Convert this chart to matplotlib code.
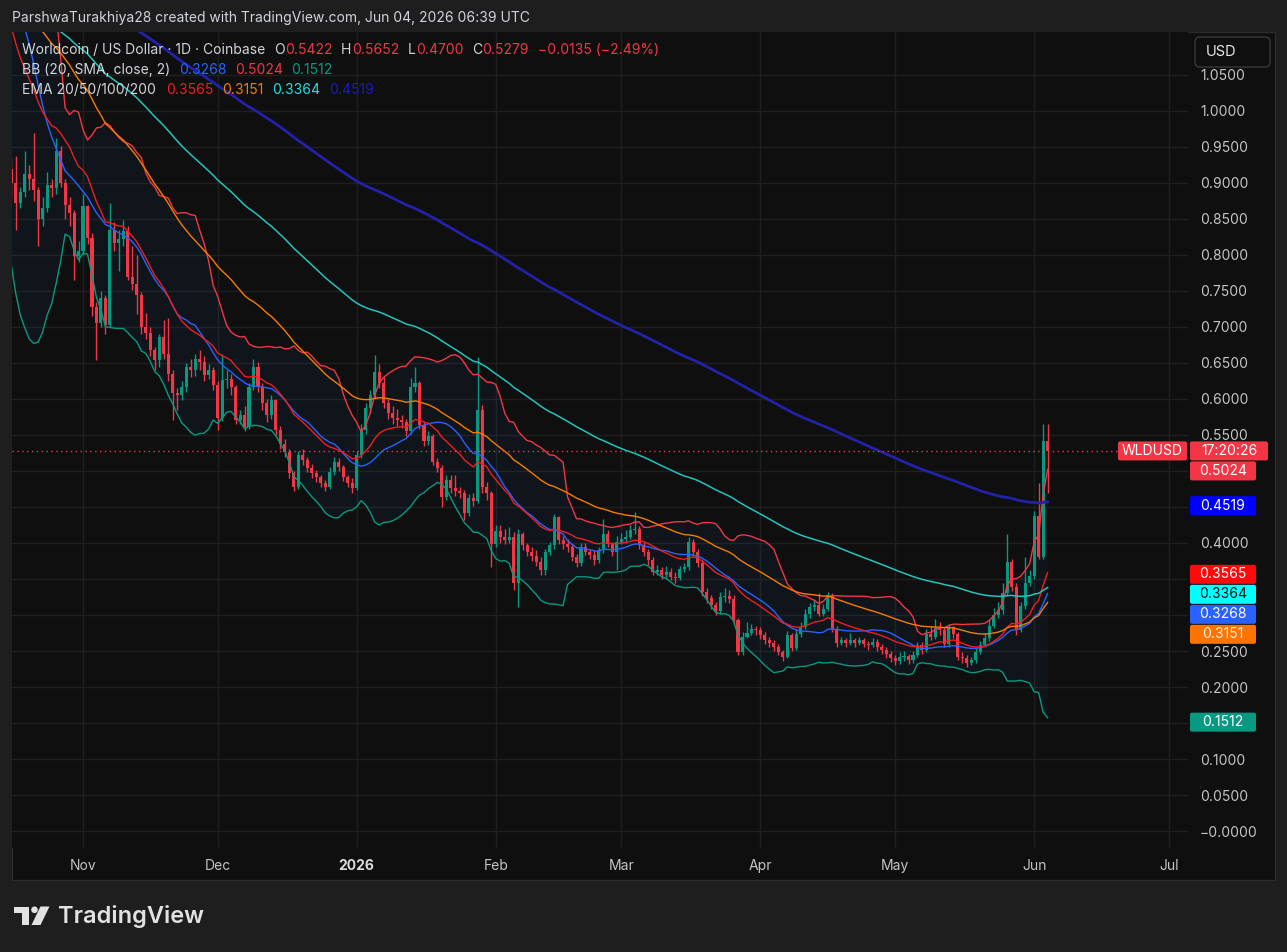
import matplotlib
matplotlib.use("Agg")
import matplotlib.pyplot as plt
import matplotlib.dates as mdates
from matplotlib.patches import Rectangle, FancyBboxPatch, Polygon, Circle
from matplotlib.transforms import IdentityTransform
import numpy as np
import pandas as pd

plt.rcParams['font.family'] = ['Inter', 'DejaVu Sans']

W, H = 1287, 952
BG_OUT = '#1e1e1e'
BG = '#0f0f0f'
GRID = '#1f1f1f'
LIGHT = '#d1d4dc'
AXIS_TXT = '#c4c4c4'
GREEN = '#089981'
RED = '#F23645'

# ---- data (WLD/USD daily, Coinbase) ----
first_day = "2025-10-16"

# closes before the visible window, only used to warm up BB / EMA
pre_close = [1.30, 1.33, 1.36, 1.40, 1.37, 1.42, 1.45, 1.43, 1.38, 1.28,
             1.26, 1.22, 1.18, 0.99, 0.93, 0.96, 1.02, 0.98, 0.95, 0.92]
ema_seed = {20: 1.33, 50: 1.23, 100: 1.16, 200: 1.21}

closes = [
    # Oct 16 - 31
    0.900, 0.872, 0.888, 0.913, 0.905, 0.890, 0.850, 0.865, 0.897, 0.893,
    0.945, 0.900, 0.869, 0.858, 0.798, 0.805,
    # Nov
    0.868, 0.823, 0.728, 0.705, 0.740, 0.703, 0.835, 0.816, 0.822, 0.833,
    0.770, 0.760, 0.744, 0.700, 0.691, 0.668, 0.654, 0.686, 0.663, 0.635,
    0.608, 0.605, 0.617, 0.645, 0.640, 0.656, 0.652, 0.633, 0.640, 0.620,
    # Dec
    0.573, 0.626, 0.628, 0.617, 0.571, 0.578, 0.561, 0.617, 0.645, 0.617,
    0.594, 0.578, 0.598, 0.557, 0.538, 0.527, 0.497, 0.478, 0.522, 0.515,
    0.504, 0.497, 0.492, 0.483, 0.478, 0.499, 0.513, 0.505, 0.492, 0.483,
    0.476,
    # Jan
    0.522, 0.557, 0.587, 0.605, 0.638, 0.622, 0.594, 0.580, 0.573, 0.571,
    0.568, 0.555, 0.617, 0.622, 0.564, 0.541, 0.548, 0.513, 0.504, 0.464,
    0.487, 0.476, 0.472, 0.470, 0.441, 0.462, 0.459, 0.585, 0.478, 0.469,
    0.399,
    # Feb
    0.416, 0.409, 0.404, 0.409, 0.344, 0.413, 0.397, 0.388, 0.382, 0.374,
    0.362, 0.388, 0.397, 0.436, 0.404, 0.399, 0.395, 0.381, 0.372, 0.395,
    0.388, 0.383, 0.376, 0.390, 0.413, 0.399, 0.388, 0.402,
    # Mar
    0.406, 0.408, 0.418, 0.420, 0.397, 0.388, 0.376, 0.360, 0.362, 0.355,
    0.360, 0.353, 0.351, 0.364, 0.366, 0.402, 0.388, 0.372, 0.332, 0.323,
    0.314, 0.305, 0.325, 0.326, 0.322, 0.293, 0.249, 0.270, 0.275, 0.281,
    0.279,
    # Apr
    0.272, 0.265, 0.261, 0.256, 0.249, 0.242, 0.272, 0.254, 0.274, 0.284,
    0.302, 0.311, 0.314, 0.302, 0.309, 0.328, 0.281, 0.261, 0.265, 0.261,
    0.265, 0.261, 0.265, 0.260, 0.258, 0.263, 0.256, 0.251, 0.246, 0.240,
    # May
    0.236, 0.242, 0.243, 0.237, 0.245, 0.258, 0.251, 0.274, 0.270, 0.282,
    0.279, 0.260, 0.283, 0.274, 0.242, 0.240, 0.233, 0.237, 0.249, 0.258,
    0.268, 0.285, 0.300, 0.307, 0.330, 0.374, 0.339, 0.279, 0.312, 0.344,
    0.354,
    # Jun
    0.437, 0.381, 0.5414, 0.5279,
]

highs = [
    0.935, 0.937, 0.895, 0.945, 0.925, 0.969, 0.895, 0.880, 0.915, 0.905,
    0.962, 0.952, 0.905, 0.880, 0.862, 0.820,
    0.885, 0.870, 0.830, 0.735, 0.750, 0.745, 0.872, 0.846, 0.835, 0.848,
    0.840, 0.812, 0.800, 0.748, 0.720, 0.700, 0.672, 0.690, 0.710, 0.712,
    0.640, 0.615, 0.625, 0.650, 0.655, 0.662, 0.668, 0.660, 0.648, 0.645,
    0.625, 0.663, 0.640, 0.635, 0.620, 0.585, 0.590, 0.622, 0.655, 0.652,
    0.622, 0.600, 0.605, 0.600, 0.562, 0.545, 0.530, 0.500, 0.528, 0.530,
    0.520, 0.510, 0.502, 0.495, 0.488, 0.505, 0.520, 0.518, 0.508, 0.495,
    0.490,
    0.528, 0.565, 0.595, 0.612, 0.661, 0.649, 0.630, 0.600, 0.590, 0.586,
    0.578, 0.572, 0.629, 0.645, 0.625, 0.568, 0.556, 0.552, 0.518, 0.508,
    0.495, 0.495, 0.494, 0.478, 0.474, 0.468, 0.470, 0.659, 0.592, 0.485,
    0.472,
    0.425, 0.425, 0.420, 0.422, 0.415, 0.420, 0.415, 0.400, 0.395, 0.390,
    0.380, 0.392, 0.402, 0.440, 0.438, 0.410, 0.405, 0.398, 0.385, 0.400,
    0.400, 0.392, 0.390, 0.395, 0.434, 0.418, 0.402, 0.410,
    0.414, 0.418, 0.425, 0.443, 0.424, 0.402, 0.392, 0.380, 0.370, 0.366,
    0.368, 0.365, 0.360, 0.368, 0.372, 0.408, 0.405, 0.392, 0.376, 0.338,
    0.328, 0.318, 0.332, 0.338, 0.335, 0.328, 0.296, 0.276, 0.290, 0.288,
    0.285,
    0.284, 0.276, 0.270, 0.265, 0.260, 0.252, 0.278, 0.275, 0.280, 0.290,
    0.308, 0.316, 0.322, 0.330, 0.315, 0.332, 0.330, 0.285, 0.270, 0.268,
    0.275, 0.268, 0.270, 0.268, 0.264, 0.268, 0.266, 0.260, 0.255, 0.250,
    0.245, 0.248, 0.250, 0.246, 0.250, 0.262, 0.262, 0.280, 0.285, 0.295,
    0.290, 0.284, 0.288, 0.285, 0.276, 0.248, 0.244, 0.242, 0.254, 0.264,
    0.275, 0.295, 0.310, 0.318, 0.345, 0.413, 0.378, 0.345, 0.318, 0.381,
    0.362,
    0.445, 0.483, 0.565, 0.5652,
]

lows = [
    0.880, 0.835, 0.865, 0.880, 0.890, 0.875, 0.812, 0.840, 0.860, 0.880,
    0.885, 0.895, 0.850, 0.840, 0.765, 0.790,
    0.800, 0.815, 0.715, 0.654, 0.700, 0.690, 0.700, 0.805, 0.778, 0.812,
    0.765, 0.752, 0.718, 0.690, 0.683, 0.660, 0.640, 0.645, 0.655, 0.625,
    0.571, 0.585, 0.598, 0.610, 0.630, 0.632, 0.640, 0.625, 0.628, 0.612,
    0.557, 0.570, 0.615, 0.605, 0.565, 0.565, 0.556, 0.558, 0.612, 0.610,
    0.585, 0.568, 0.572, 0.550, 0.530, 0.520, 0.490, 0.472, 0.475, 0.508,
    0.498, 0.490, 0.485, 0.478, 0.472, 0.475, 0.495, 0.500, 0.486, 0.478,
    0.469,
    0.474, 0.518, 0.552, 0.580, 0.600, 0.615, 0.588, 0.572, 0.565, 0.562,
    0.560, 0.548, 0.552, 0.610, 0.558, 0.535, 0.536, 0.508, 0.498, 0.450,
    0.460, 0.470, 0.465, 0.462, 0.432, 0.438, 0.452, 0.455, 0.470, 0.460,
    0.367,
    0.395, 0.400, 0.398, 0.400, 0.335, 0.311, 0.390, 0.382, 0.375, 0.368,
    0.355, 0.355, 0.384, 0.392, 0.398, 0.392, 0.388, 0.375, 0.366, 0.368,
    0.383, 0.378, 0.370, 0.372, 0.386, 0.395, 0.382, 0.362,
    0.398, 0.400, 0.405, 0.412, 0.392, 0.382, 0.370, 0.355, 0.355, 0.350,
    0.350, 0.348, 0.345, 0.348, 0.360, 0.362, 0.382, 0.366, 0.326, 0.316,
    0.308, 0.300, 0.302, 0.318, 0.316, 0.288, 0.244, 0.244, 0.268, 0.272,
    0.272,
    0.266, 0.260, 0.255, 0.250, 0.244, 0.236, 0.240, 0.250, 0.252, 0.270,
    0.280, 0.296, 0.305, 0.298, 0.298, 0.305, 0.276, 0.256, 0.258, 0.256,
    0.258, 0.256, 0.258, 0.255, 0.252, 0.255, 0.250, 0.246, 0.240, 0.235,
    0.230, 0.232, 0.236, 0.232, 0.234, 0.242, 0.246, 0.248, 0.265, 0.266,
    0.272, 0.255, 0.256, 0.268, 0.238, 0.234, 0.228, 0.230, 0.234, 0.246,
    0.255, 0.264, 0.282, 0.296, 0.302, 0.326, 0.334, 0.272, 0.276, 0.308,
    0.340,
    0.350, 0.378, 0.378, 0.4700,
]

# last values shown on the price scale (from the chart legend)
tag_values = [0.5279, 0.5024, 0.4519, 0.3565, 0.3364, 0.3268, 0.3151, 0.1512]
y_range = (-0.0236, 1.1097)
month_ticks = ["2025-11-01", "2025-12-01", "2026-01-01", "2026-02-01", "2026-03-01",
               "2026-04-01", "2026-05-01", "2026-06-01", "2026-07-01"]
month_labels = ["Nov", "Dec", "2026", "Feb", "Mar", "Apr", "May", "Jun", "Jul"]


def ema(values, n, seed):
    a = 2.0 / (n + 1)
    e = seed
    out = []
    for v in values:
        e = e + a * (v - e)
        out.append(e)
    return np.array(out)


days = pd.date_range(first_day, periods=len(closes), freq="D")
pre_days = pd.date_range(end=days[0] - pd.Timedelta(days=1), periods=len(pre_close), freq="D")
all_x = mdates.date2num(pre_days.append(days))
all_close = pd.Series(pre_close + closes)

basis = all_close.rolling(20).mean().values
dev = all_close.rolling(20).std(ddof=0).values
upper = basis + 2 * dev
lower = basis - 2 * dev
emas = {n: ema(all_close.values, n, ema_seed[n]) for n in (20, 50, 100, 200)}

x = mdates.date2num(days)
c = np.array(closes)
o = np.array([pre_close[-1]] + closes[:-1])
hi = np.array(highs)
lo = np.array(lows)


def fx(px):
    return px / W


def fy(py):
    return 1 - py / H


fig = plt.figure(figsize=(W / 100, H / 100), dpi=100, facecolor=BG_OUT)
fig.add_artist(Rectangle((fx(12), fy(880)), fx(1275) - fx(12), fy(32) - fy(880),
                         transform=fig.transFigure, facecolor=BG, edgecolor='#2b2b2b',
                         lw=1, zorder=-1))

ax = fig.add_axes([fx(12), fy(848), fx(1188) - fx(12), fy(32) - fy(848)])
ax.set_facecolor(BG)
t_nov = mdates.date2num(pd.Timestamp("2025-11-01"))
ax.set_xlim(t_nov - 15.83, t_nov + 246.3)
ax.set_ylim(*y_range)
for s in ax.spines.values():
    s.set_visible(False)

# price scale tags: stack them 20 px apart like TradingView does
tag_style = [("17:20:26", RED, 'white', 78), ("0.5024", RED, 'white', 66),
             ("0.4519", '#0000ff', 'white', 66), ("0.3565", '#ff0a0a', 'white', 66),
             ("0.3364", '#00ffff', '#101010', 66), ("0.3268", '#2962FF', 'white', 66),
             ("0.3151", '#ff7300', '#fff4e0', 66), ("0.1512", GREEN, 'white', 66)]
tag_rows = []
prev = -1e9
for v in tag_values:
    ytop = H - ax.transData.transform((ax.get_xlim()[0], v))[1]
    if ytop < prev + 20:
        ytop = prev + 20
    prev = ytop
    tag_rows.append(ytop)


def price_label(v, pos):
    ytop = H - ax.transData.transform((ax.get_xlim()[0], v))[1]
    if any(abs(ytop - t) < 15 for t in tag_rows):
        return ""
    return "\u22120.0000" if abs(v) < 1e-9 else f"{v:.4f}"


ax.set_yticks(np.round(np.arange(0, 1.0501, 0.05), 4))
ax.yaxis.tick_right()
ax.yaxis.set_major_formatter(plt.FuncFormatter(price_label))
ax.tick_params(axis='y', length=0, pad=8.6, labelsize=10, labelcolor=AXIS_TXT)
ax.set_xticks(mdates.date2num(pd.to_datetime(month_ticks)))
ax.set_xticklabels(month_labels)
ax.tick_params(axis='x', length=0, pad=8.2, labelsize=10, labelcolor=AXIS_TXT)
for lab in ax.get_xticklabels():
    if lab.get_text() == "2026":
        lab.set_fontweight('bold')
        lab.set_color('#dcdcdc')
ax.grid(True, color=GRID, lw=1)
ax.set_axisbelow(True)

# Bollinger bands
ax.fill_between(all_x, upper, lower, color='#2196F3', alpha=0.05, lw=0, zorder=1)
ax.plot(all_x, upper, color=RED, lw=1, zorder=5)
ax.plot(all_x, lower, color=GREEN, lw=1, zorder=5)
ax.plot(all_x, basis, color='#2962FF', lw=1, zorder=5)

# EMAs
ax.plot(all_x, emas[20], color='#f01e1e', lw=1, zorder=5)
ax.plot(all_x, emas[50], color='#f57c00', lw=1, zorder=5)
ax.plot(all_x, emas[100], color='#22c4bc', lw=1.1, zorder=5)
ax.plot(all_x, emas[200], color='#2222a8', lw=2.0, zorder=5)

# candles
col = np.where(c >= o, GREEN, RED)
min_h = (y_range[1] - y_range[0]) / 816
ax.vlines(x, lo, hi, colors=col, lw=1, zorder=3)
ax.bar(x, np.maximum(np.abs(c - o), min_h), bottom=np.minimum(o, c), width=0.68,
       color=col, lw=0, zorder=4)

ax.axhline(closes[-1], color=RED, lw=1, ls=(0, (1, 2.5)), zorder=6)

# header
fig.text(fx(12), fy(18), "ParshwaTurakhiya28 created with TradingView.com, Jun 04, 2026 06:39 UTC",
         color=LIGHT, fontsize=10, va='center', ha='left')

renderer = fig.canvas.get_renderer()


def text_run(xpx, ypx, parts, size=10):
    for s, color, gap in parts:
        t = fig.text(fx(xpx), fy(ypx), s, color=color, fontsize=size, va='center', ha='left',
                     zorder=10)
        xpx = t.get_window_extent(renderer).x1 + gap


text_run(22, 50, [("Worldcoin / US Dollar \u00b7 1D \u00b7 Coinbase", LIGHT, 8.5),
                  ("O", LIGHT, 0.5), ("0.5422", RED, 8.5),
                  ("H", LIGHT, 0.5), ("0.5652", RED, 8.5),
                  ("L", LIGHT, 0.5), ("0.4700", RED, 8.5),
                  ("C", LIGHT, 0.5), ("0.5279", RED, 8.5),
                  ("\u22120.0135 (\u22122.49%)", RED, 0)])
text_run(22, 70, [("BB (20, SMA, close, 2)", LIGHT, 8.7), ("0.3268", '#2962FF', 8.7),
                  ("0.5024", RED, 8.7), ("0.1512", GREEN, 0)])
text_run(22, 90, [("EMA 20/50/100/200", LIGHT, 10.5), ("0.3565", '#f01e1e', 8.7),
                  ("0.3151", '#f57c00', 8.7), ("0.3364", '#22e0e0', 8.7),
                  ("0.4519", '#1a1ac8', 0)])

for ytop, (label, bg, fg, wpx) in zip(tag_rows, tag_style):
    yd = H - ytop
    fig.add_artist(FancyBboxPatch((1190, yd - 9.5), wpx, 19, boxstyle="round,pad=0,rounding_size=2",
                                  transform=IdentityTransform(), facecolor=bg, lw=0, zorder=8))
    fig.text(fx(1190 + wpx / 2), fy(ytop), label, color=fg, fontsize=10, ha='center',
             va='center', zorder=9)
    if label == "17:20:26":
        fig.add_artist(FancyBboxPatch((1118, yd - 9.5), 69, 19, boxstyle="round,pad=0,rounding_size=2",
                                      transform=IdentityTransform(), facecolor=bg, lw=0, zorder=8))
        fig.text(fx(1152.5), fy(ytop), "WLDUSD", color='white', fontsize=10, ha='center',
                 va='center', zorder=9)

# currency button
fig.add_artist(FancyBboxPatch((1195, H - 67), 75, 30, boxstyle="round,pad=0,rounding_size=5",
                              transform=IdentityTransform(), facecolor=BG, edgecolor='#3a3a3a',
                              lw=1, zorder=8))
fig.text(fx(1206), fy(52), "USD", color='#e8e8e8', fontsize=10.5, ha='left', va='center', zorder=9)

# TradingView logo
logo = '#e2e2e2'
fig.add_artist(Polygon([(13.5, H - 906.5), (28.5, H - 906.5), (28.5, H - 925), (22, H - 925),
                        (22, H - 913), (13.5, H - 913)], closed=True,
                       transform=IdentityTransform(), facecolor=logo, lw=0))
fig.add_artist(Circle((34.5, H - 909.8), 3.3, transform=IdentityTransform(), facecolor=logo, lw=0))
fig.add_artist(Polygon([(40.5, H - 906.5), (49.5, H - 906.5), (40.5, H - 925), (31.5, H - 925)],
                       closed=True, transform=IdentityTransform(), facecolor=logo, lw=0))
fig.text(fx(58), fy(916), "TradingView", color=logo, fontsize=17, fontweight='semibold',
         ha='left', va='center')

fig.savefig("out.png", dpi=100, facecolor=BG_OUT)
